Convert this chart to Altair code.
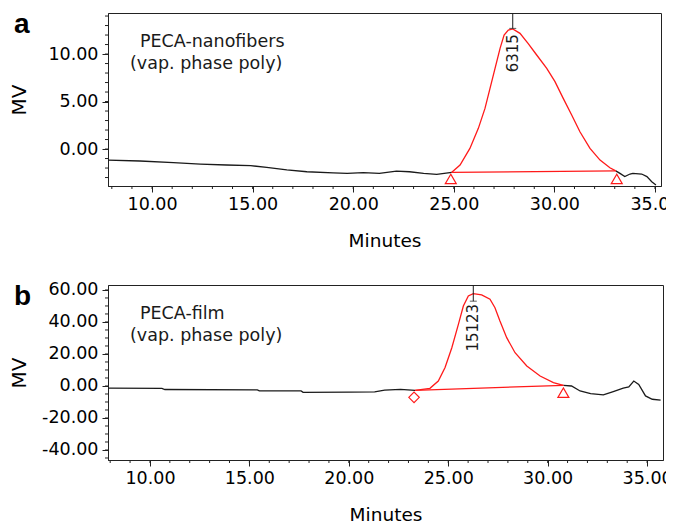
import altair as alt
import pandas as pd

# ---------------- Panel a : PECA-nanofibers ----------------
a_pre_t = [7.81, 9.4, 11.06, 12.4, 13.7, 14.9, 15.7, 16.7, 17.7, 19.0, 19.7, 20.5, 21.3, 22.15, 22.8, 23.5, 24.15, 24.9]
a_pre_v = [-1.16, -1.26, -1.44, -1.58, -1.68, -1.75, -1.93, -2.2, -2.39, -2.5, -2.56, -2.49, -2.56, -2.32, -2.39, -2.56, -2.67, -2.45]
a_peak_t = [24.9, 25.31, 25.8, 26.22, 26.55, 26.8, 27.05, 27.3, 27.5, 27.71, 27.93, 28.29, 28.7, 29.12, 29.62, 30.03, 30.44, 30.86, 31.27, 31.77, 32.27, 32.76, 33.05]
a_peak_v = [-2.45, -1.68, 0.07, 2.18, 4.28, 6.39, 8.49, 10.6, 12.0, 12.53, 12.65, 12.18, 11.1, 9.9, 8.49, 7.09, 5.33, 3.58, 1.82, 0.07, -1.16, -1.97, -2.3]
a_post_t = [33.05, 33.26, 33.5, 33.76, 33.9, 34.34, 34.6, 34.84, 35.05]
a_post_v = [-2.3, -2.56, -2.9, -2.63, -2.56, -2.63, -2.9, -3.44, -3.79]
a_base_t = [24.9, 33.05]
a_base_v = [-2.45, -2.3]
a_mark_t = [24.85, 33.1]
a_mark_v = [-3.15, -3.15]
a_peak_time = 27.93
a_peak_top = 12.7
a_peak_label = "6315"
a_label_v = 12.1
a_y_major = [0, 5, 10]
a_y_minor = list(range(-3, 15))

# ---------------- Panel b : PECA-film ----------------
b_pre_t = [7.89, 10.6, 10.75, 15.4, 15.5, 17.6, 17.7, 20.0, 21.3, 21.8, 22.6, 23.33]
b_pre_v = [-1.4, -1.5, -2.2, -2.4, -3.0, -3.1, -4.0, -3.8, -3.7, -2.6, -2.1, -2.7]
b_peak_t = [23.33, 24.08, 24.5, 24.84, 25.18, 25.51, 25.76, 26.01, 26.26, 26.68, 27.1, 27.35, 27.6, 27.94, 28.36, 28.95, 29.62, 30.29, 30.79]
b_peak_v = [-2.7, -1.46, 3.1, 11.5, 23.9, 38.5, 50.0, 56.25, 57.7, 56.9, 54.2, 48.9, 40.6, 30.2, 20.8, 12.5, 6.25, 2.1, 0.4]
b_post_t = [30.79, 31.2, 31.63, 32.16, 32.8, 33.3, 33.8, 34.08, 34.33, 34.58, 34.92, 35.26, 35.68]
b_post_v = [0.4, 0.0, -3.1, -4.8, -5.6, -3.5, -1.4, -0.6, 3.1, 1.0, -6.2, -8.3, -8.9]
b_base_t = [23.33, 30.79]
b_base_v = [-2.7, 0.4]
b_diamond_t = [23.28]
b_diamond_v = [-7.1]
b_tri_t = [30.79]
b_tri_v = [-4.2]
b_peak_time = 26.26
b_peak_top = 53.0
b_peak_label = "15123"
b_label_v = 51.3
b_y_major = [-40, -20, 0, 20, 40, 60]
b_y_minor = list(range(-45, 61, 5))

x_major = [10, 15, 20, 25, 30, 35]
x_minor = list(range(8, 36))

FONT = "DejaVu Sans"
BLACK = "#1a1a1a"
RED = "#ff1a1a"


def df(t, v):
    return pd.DataFrame({"t": t, "v": v})


def panel(letter, name1, name2, xdom, ydom, ymaj, ymin, w, h,
          pre, peak, post, base, markers, peak_time, peak_top, peak_label, label_v):
    xs = alt.Scale(domain=xdom, nice=False, zero=False)
    ys = alt.Scale(domain=ydom, nice=False, zero=False)
    X = alt.X("t:Q", scale=xs, axis=alt.Axis(
        values=x_major, format=".2f", tickSize=6, labelPadding=3, orient="bottom",
        labelOverlap=False, labelFlush=False,
        title="Minutes", titleY=54, titleBaseline="middle", titleFontSize=18.5))
    Y = alt.Y("v:Q", scale=ys, axis=alt.Axis(
        values=ymaj,
        labelExpr="abs(datum.value) < 1e-9 ? '0.00' : replace(format(datum.value, '.2f'), '\u2212', '-')",
        tickSize=6, labelPadding=4, orient="left", labelOverlap=False, labelFlush=False,
        title="MV", titleX=-89, titleY=h / 2, titleAngle=270, titleAlign="center",
        titleBaseline="middle", titleFontSize=20))

    layers = []
    layers.append(alt.Chart(df(*pre)).mark_line(color=BLACK, strokeWidth=1.3).encode(x=X, y=Y))
    layers.append(alt.Chart(df(*post)).mark_line(color=BLACK, strokeWidth=1.3).encode(x=X, y=Y))
    layers.append(alt.Chart(df(*base)).mark_line(color=RED, strokeWidth=1.2).encode(x=X, y=Y))
    layers.append(alt.Chart(df(*peak)).mark_line(color=RED, strokeWidth=1.3).encode(x=X, y=Y))
    # minor ticks (through the same scales)
    layers.append(alt.Chart(pd.DataFrame({"t": x_minor})).mark_rule(color="#222", strokeWidth=1).encode(
        x=X, y=alt.value(h), y2=alt.value(h + 3)))
    layers.append(alt.Chart(pd.DataFrame({"v": ymin})).mark_rule(color="#222", strokeWidth=1).encode(
        y=Y, x=alt.value(0), x2=alt.value(-3)))
    for (mt, mv, shape, size) in markers:
        layers.append(alt.Chart(df(mt, mv)).mark_point(shape=shape, size=size, color=RED,
                                                       strokeWidth=1.2, filled=False, opacity=1)
                      .encode(x=X, y=Y))
    pk = pd.DataFrame({"t": [peak_time], "v": [peak_top]})
    pl = pd.DataFrame({"t": [peak_time], "v": [label_v], "lab": [peak_label]})
    layers.append(alt.Chart(pk).mark_rule(color=BLACK, strokeWidth=1).encode(
        x=X, y=Y, y2=alt.value(0)))
    layers.append(alt.Chart(pk).mark_tick(orient="horizontal", size=7, thickness=1, color=BLACK).encode(
        x=X, y=Y))
    layers.append(alt.Chart(pl).mark_text(angle=270, align="right", baseline="middle", font=FONT,
                                          fontSize=15, color=BLACK).encode(
        x=X, y=Y, text="lab:N"))
    # inset texts
    layers.append(alt.Chart(pd.DataFrame({"s": [name1]})).mark_text(
        align="left", baseline="alphabetic", font=FONT, fontSize=17.5, color=BLACK).encode(
        x=alt.value(32), y=alt.value(34), text="s:N"))
    layers.append(alt.Chart(pd.DataFrame({"s": [name2]})).mark_text(
        align="left", baseline="alphabetic", font=FONT, fontSize=17.5, color=BLACK).encode(
        x=alt.value(22), y=alt.value(56), text="s:N"))
    layers.append(alt.Chart(pd.DataFrame({"s": [letter]})).mark_text(
        align="left", baseline="alphabetic", font="Liberation Sans", fontWeight="bold",
        fontSize=28, color="black").encode(
        x=alt.value(-94), y=alt.value(20), text="s:N"))
    return alt.layer(*layers).properties(width=w, height=h)


pa = panel("a", "PECA-nanofibers", "(vap. phase poly)", [7.81, 35.3], [-3.89, 14.32],
           a_y_major, a_y_minor, 553, 173,
           (a_pre_t, a_pre_v), (a_peak_t, a_peak_v), (a_post_t, a_post_v), (a_base_t, a_base_v),
           [(a_mark_t, a_mark_v, "triangle-up", 120)],
           a_peak_time, a_peak_top, a_peak_label, a_label_v)

pb = panel("b", "PECA-film", "(vap. phase poly)", [7.89, 35.8], [-46.25, 63.1],
           b_y_major, b_y_minor, 555, 175,
           (b_pre_t, b_pre_v), (b_peak_t, b_peak_v), (b_post_t, b_post_v), (b_base_t, b_base_v),
           [(b_diamond_t, b_diamond_v, "diamond", 110), (b_tri_t, b_tri_v, "triangle-up", 120)],
           b_peak_time, b_peak_top, b_peak_label, b_label_v)

chart = alt.vconcat(pa, pb, spacing=30).properties(
    padding={"left": 0, "top": 2, "right": -15, "bottom": 0}
).configure_view(stroke="#222", strokeWidth=1).configure_axis(
    labelFont=FONT, labelFontSize=17.5, labelColor="black",
    titleFont=FONT, titleFontWeight="normal", titleColor="black",
    domainColor="#222", tickColor="#222", grid=False,
    labelOverlap=False, labelFlush=False,
)

chart.save("out.html", embed_options={"renderer": "svg", "actions": False})
